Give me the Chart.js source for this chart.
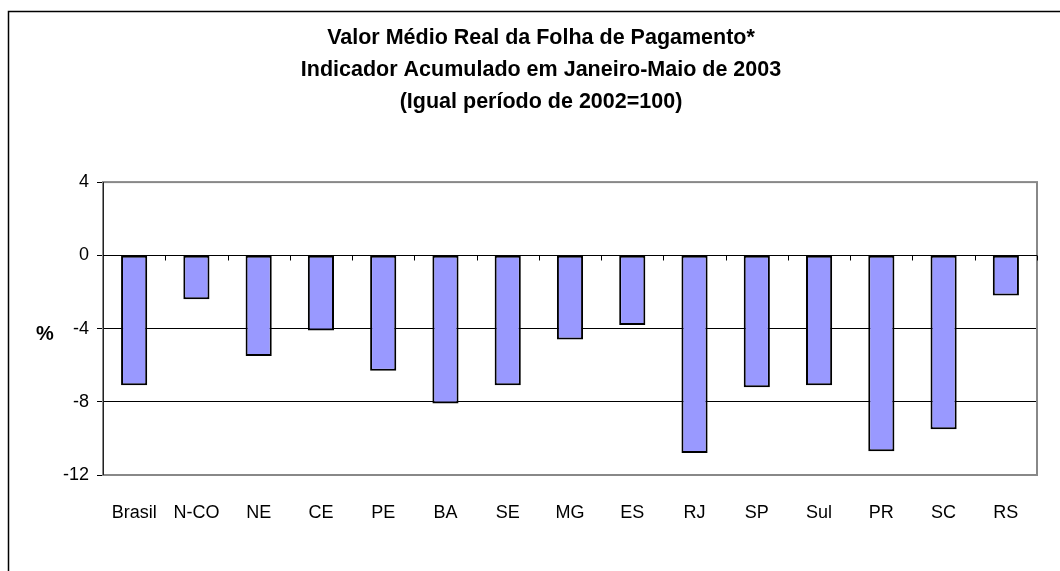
<!DOCTYPE html>
<html>
<head>
<meta charset="utf-8">
<script src="https://cdn.jsdelivr.net/npm/chart.js@4.4.0/dist/chart.umd.min.js"></script>
<style>
  html, body { margin: 0; padding: 0; background: #fff; }
  #wrap { width: 1060px; height: 571px; position: relative; }
</style>
</head>
<body>
<div id="wrap"><canvas id="chartFolha"></canvas></div>
<script>
// dados
const regioes = ['Brasil', 'N-CO', 'NE', 'CE', 'PE', 'BA', 'SE', 'MG', 'ES', 'RJ', 'SP', 'Sul', 'PR', 'SC', 'RS'];
const variacao = [-7.1, -2.4, -5.5, -4.1, -6.3, -8.1, -7.1, -4.6, -3.8, -10.8, -7.2, -7.1, -10.7, -9.5, -2.2];
const yMin = -12, yMax = 4, yStep = 4;
const titulo = [
  'Valor Médio Real da Folha de Pagamento*',
  'Indicador Acumulado em Janeiro-Maio de 2003',
  '(Igual período de 2002=100)'
];

const FONT = "'Liberation Sans', Arial, sans-serif";

// moldura externa, borda da área do gráfico, marcas no eixo zero e rótulo "%"
const extras = {
  id: 'extras',
  beforeDraw(chart) {
    const ctx = chart.ctx;
    ctx.save();
    ctx.strokeStyle = '#000';
    ctx.lineWidth = 1.5;
    ctx.strokeRect(8.5, 11.5, 1200, 800);
    ctx.restore();
  },
  afterDatasetsDraw(chart) {
    const { ctx, chartArea: a, scales: { x, y } } = chart;
    ctx.save();
    // borda cinza
    ctx.strokeStyle = '#888';
    ctx.lineWidth = 2;
    ctx.strokeRect(a.left, a.top, a.right - a.left, a.bottom - a.top);
    // eixo vertical
    ctx.strokeStyle = '#222';
    ctx.lineWidth = 1;
    ctx.beginPath();
    ctx.moveTo(a.left + 0.5, a.top);
    ctx.lineTo(a.left + 0.5, a.bottom);
    ctx.stroke();
    // linha do zero e marcas entre categorias
    const y0 = Math.round(y.getPixelForValue(0)) + 0.5;
    ctx.strokeStyle = '#000';
    ctx.beginPath();
    ctx.moveTo(a.left, y0);
    ctx.lineTo(a.right, y0);
    const half = (x.getPixelForValue(1) - x.getPixelForValue(0)) / 2;
    for (let i = 1; i <= regioes.length; i++) {
      const px = Math.round(x.getPixelForValue(i) - half) + 0.5;
      ctx.moveTo(px, y0);
      ctx.lineTo(px, y0 + 5);
    }
    ctx.stroke();
    // rótulo do eixo
    ctx.fillStyle = '#000';
    ctx.font = 'bold 20px ' + FONT;
    ctx.textAlign = 'center';
    ctx.textBaseline = 'middle';
    ctx.fillText('%', a.left - 58, y.getPixelForValue(-4) + 6);
    ctx.restore();
  }
};

new Chart(document.getElementById('chartFolha').getContext('2d'), {
  type: 'bar',
  data: {
    labels: regioes,
    datasets: [{
      label: 'Variação',
      data: variacao,
      backgroundColor: '#9999FF',
      borderColor: '#000',
      borderWidth: 2,
      borderSkipped: false,
      barPercentage: 0.42,
      categoryPercentage: 1
    }]
  },
  options: {
    responsive: true,
    maintainAspectRatio: false,
    animation: false,
    layout: { padding: { top: 8, left: 45, right: 23, bottom: 0 } },
    plugins: {
      legend: { display: false },
      tooltip: { enabled: false },
      title: {
        display: true,
        text: titulo,
        color: '#000',
        font: { family: FONT, size: 21.5, weight: 'bold', lineHeight: 1.49 },
        padding: { top: 14, bottom: 64 }
      }
    },
    scales: {
      x: {
        grid: { display: false },
        border: { display: false },
        ticks: {
          color: '#000',
          font: { family: FONT, size: 18 },
          padding: 19,
          maxRotation: 0,
          autoSkip: false
        },
        afterFit(s) { s.height = 96; }
      },
      y: {
        min: yMin,
        max: yMax,
        ticks: {
          stepSize: yStep,
          color: '#000',
          font: { family: FONT, size: 18 },
          padding: 8
        },
        grid: {
          color: ctx => (ctx.tick && (ctx.tick.value === yMax || ctx.tick.value === yMin)) ? '#888' : '#000',
          tickColor: '#000',
          tickLength: 6,
          lineWidth: 1
        },
        border: { display: false },
        afterFit(s) { s.width = 58; }
      }
    }
  },
  plugins: [extras]
});
</script>
</body>
</html>
